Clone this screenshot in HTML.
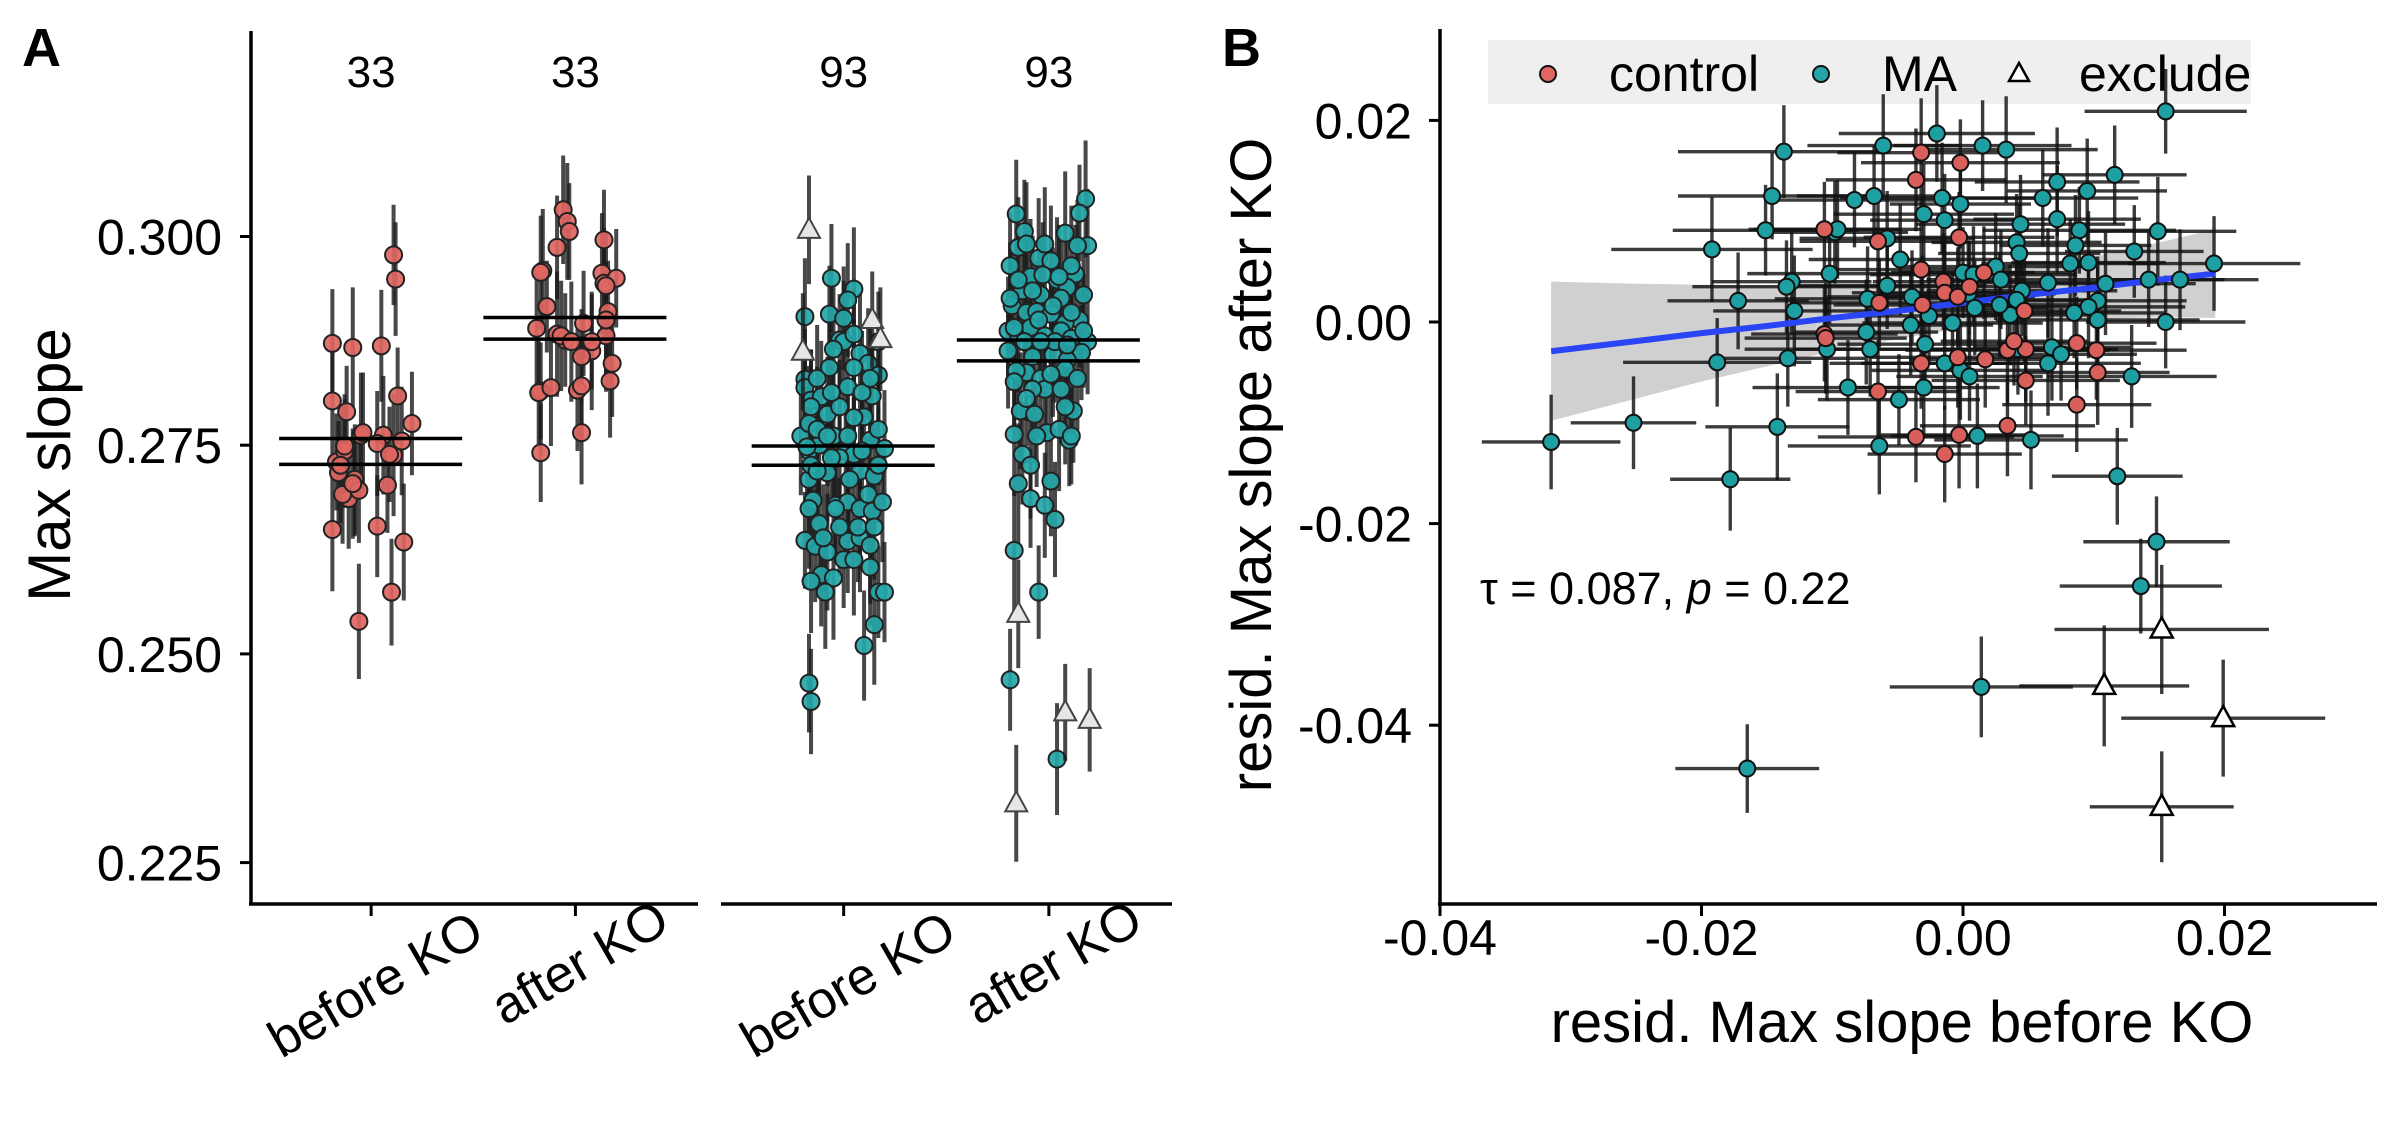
<!DOCTYPE html>
<html><head><meta charset="utf-8"><style>
html,body{margin:0;padding:0;background:#fff}
svg text{font-family:"Liberation Sans",sans-serif;fill:#000}
</style></head><body>
<svg id="chart" width="2400" height="1140" viewBox="0 0 2400 1140" xmlns="http://www.w3.org/2000/svg">
<g id="gA"></g>
<g id="gB"></g>
</svg>
<script>
// ===== Panel A data (values) =====
const aCategories = ["before KO","after KO","before KO","after KO"];
const aCounts = ["33","33","93","93"];
const aTicks = [0.225,0.250,0.275,0.300];
const ctlBefore = [287.2,280.3,273.0,271.7,264.9,274.3,279.0,268.6,286.7,270.9,270.0,269.6,253.9,276.2,274.9,265.3,286.9,276.2,270.2,257.4,273.8,297.8,294.9,280.9,275.5,263.4,277.6,269.1,270.4,276.5,275.2,273.9,272.6];
const ctlBeforeJit = [-0.19,-0.19,-0.17,-0.16,-0.19,-0.13,-0.12,-0.11,-0.09,-0.08,-0.08,-0.06,-0.06,-0.05,-0.13,0.03,0.05,0.06,0.08,0.10,0.11,0.11,0.12,0.13,0.15,0.16,0.20,-0.14,-0.09,-0.04,0.03,0.09,-0.15];
const ctlAfter = [303.2,301.8,300.6,298.7,295.9,295.7,291.6,299.6,295.6,294.4,295.0,294.1,289.0,288.3,287.6,291.0,288.1,286.3,285.6,284.8,281.6,282.1,282.7,281.5,281.3,281.9,276.5,274.1,288.1,287.4,289.6,287.4,290.0];
const ctlAfterJit = [-0.06,-0.04,-0.03,-0.09,-0.16,-0.17,-0.14,0.14,0.13,0.14,0.20,0.15,-0.19,-0.09,-0.05,0.16,0.15,0.08,0.03,0.18,0.01,0.03,0.17,-0.17,-0.18,-0.12,0.03,-0.17,-0.07,-0.02,0.04,0.08,0.15];
const maBefore = [295.0,290.4,290.7,290.2,293.7,292.4,287.6,282.9,286.0,284.8,283.4,280.9,278.7,282.0,281.9,280.4,280.8,276.1,274.3,275.0,276.1,274.3,273.9,278.4,275.6,274.6,270.9,271.7,273.5,271.9,271.3,268.4,267.8,268.2,267.4,267.1,263.6,262.9,262.2,263.5,263.9,263.0,267.4,259.5,259.1,257.4,257.4,257.4,253.5,251.0,246.5,244.3,277.6,276.9,279.6,278.3,276.9,284.3,284.3,283.0,287.4,287.4,272.6,273.5,270.9,269.1,265.6,265.2,265.2,267.4,265.2,274.8,272.6,281.3,281.3,263.9,261.3,261.3,260.4,258.7,276.1,274.3,271.9,283.0,286.5,279.6,288.3,276.1,268.2];
const maBeforeJit = [-0.06,-0.19,-0.07,0,0.05,0.02,-0.02,-0.19,0.08,0.12,0.17,0.14,-0.08,0.02,-0.19,-0.16,-0.11,-0.21,-0.17,-0.12,-0.05,0.01,0.05,0.10,0.13,0.20,-0.17,-0.08,-0.02,0.08,0.15,-0.15,-0.04,0.02,0.08,0.14,-0.19,-0.14,-0.08,0.02,0.08,0.13,-0.04,-0.11,-0.05,-0.09,0.17,0.20,0.15,0.10,-0.17,-0.16,-0.17,-0.13,-0.02,0.05,0.17,-0.07,0.05,-0.13,0,0.17,-0.16,-0.06,0.03,0.12,-0.12,-0.02,0.07,-0.17,0.15,-0.18,0.17,-0.06,0.09,-0.10,0,0.05,0.13,-0.16,0.02,0.09,-0.13,0.13,-0.05,-0.16,0.05,-0.08,0.19];
const maBeforeExcl = [300.8,286.2,290.0,287.7];
const maBeforeExclJit = [-0.17,-0.2,0.14,0.18];
const maAfter = [302.7,304.5,302.8,300.6,300.4,298.9,298.9,298.7,297.4,297.1,295.5,296.5,295.2,294.8,293.9,293.5,293.0,292.6,290.0,291.7,290.9,291.0,290.7,289.6,288.7,288.3,289.1,288.1,288.7,287.8,287.4,286.1,286.3,285.6,285.8,285.2,283.7,283.0,284.1,281.7,281.7,279.1,278.7,279.1,276.3,276.5,275.6,273.9,270.4,270.7,268.6,267.8,266.1,262.4,257.4,246.9,237.4,289.1,287.4,290.0,287.4,290.9,288.7,283.9,281.7,283.5,283.0,294.8,293.5,296.5,295.4,280.6,279.6,276.1,276.9,272.6,276.1,292.6,291.7,293.0,287.4,287.0,282.6,295.2,299.1,299.1];
const maAfterJit = [-0.16,0.18,0.15,-0.12,0.08,0.19,0.14,-0.15,-0.05,0.01,0.13,-0.19,-0.09,0.04,0.09,-0.13,-0.04,0.06,0.15,-0.18,-0.11,-0.06,0.01,0.08,-0.20,-0.15,-0.09,-0.02,0.06,0.11,0.19,0.16,-0.20,-0.08,0.02,0.09,-0.11,-0.04,0.08,-0.02,0.06,-0.14,-0.07,0.12,-0.17,-0.01,0.10,-0.13,-0.15,0.01,-0.09,-0.02,0.03,-0.17,-0.05,-0.19,0.04,-0.17,-0.12,-0.05,0.03,0.11,0.17,-0.16,-0.08,0.01,0.14,-0.15,-0.08,0.11,-0.03,-0.11,0.08,-0.06,0.05,-0.09,0.11,-0.19,0.02,0.17,-0.04,0.09,-0.17,0.05,-0.11,-0.02];
const maAfterExcl = [254.8,232.1,243.0,242.1];
const maAfterExclJit = [-0.15,-0.16,0.08,0.20];
const aErr = [6.5,7.0,5.8,6.2,7.4,6.8,5.5,6.0,7.2,6.6,5.9,6.3,6.9,7.5,5.6,6.1,6.7,7.1,5.7,6.4,7.3,6.0,6.8,5.8,6.5,7.0,6.2,5.9,6.6,7.2,6.3,5.7,6.9,6.1,7.4,6.4,5.8,6.7,7.0,6.2];
const aMeanHi = [275.8,290.3,274.9,287.6];
const aMeanLo = [272.7,287.7,272.6,285.1];

// ===== Panel B data =====
const bTicksX = [-0.04,-0.02,0.00,0.02];
const bTicksY = [-0.04,-0.02,0.00,0.02];
const maX = [15.5,-2.0,-6.1,1.5,3.3,-13.7,11.6,7.2,-14.6,-6.8,-8.3,-1.6,-0.2,9.5,6.1,-3.0,-1.4,7.2,4.4,-15.1,-9.8,-5.8,14.9,8.9,8.6,4.1,-19.2,13.1,4.3,-4.8,8.2,9.6,19.2,2.5,0,-10.2,0.8,-13.1,-13.5,2.9,6.5,-5.8,10.9,14.2,16.6,4.5,0.4,-17.2,-3.9,-7.3,4.1,10.3,9.6,0.9,-12.9,8.5,3.6,-2.6,10.3,15.5,-0.8,-7.4,-18.8,-10.4,-7.1,-2.9,4.2,6.8,-13.4,-1.4,6.5,-0.2,0.5,12.9,-8.8,-3.0,-4.9,-14.2,-6.4,1.1,5.2,-31.5,-25.2,-17.8,11.8,14.8,13.6,1.4,-16.5,-9.6,2.8,7.5,-4.0];
const maY = [20.9,18.7,17.5,17.5,17.1,16.9,14.6,13.9,12.5,12.5,12.1,12.3,11.7,13.0,12.3,10.7,10.1,10.2,9.7,9.1,8.9,8.3,9.0,9.1,7.6,7.9,7.2,7.0,6.8,6.2,5.8,5.9,5.8,5.5,4.9,4.8,4.7,4.0,3.5,4.2,3.9,3.6,3.8,4.2,4.2,3.1,2.8,2.1,2.5,2.3,2.2,2.1,1.5,1.4,1.1,0.9,0.7,0.6,0.2,0,-0.1,-1.0,-4.0,-2.7,-2.7,-2.2,-2.7,-2.5,-3.6,-4.1,-4.1,-4.8,-5.4,-5.4,-6.5,-6.5,-7.7,-10.4,-12.3,-11.3,-11.7,-11.9,-10.0,-15.6,-15.3,-21.8,-26.2,-36.2,-44.3,9.2,1.7,-3.2,-0.3];
const ctlX = [-3.2,-0.2,-3.6,-10.6,-6.5,-0.3,-3.2,-1.5,1.6,-1.4,-0.4,-6.4,4.7,-10.6,-10.5,-3.2,-0.4,1.7,3.4,8.7,10.2,10.3,4.8,-6.5,8.7,3.4,-3.6,-0.3,-1.4,0.5,4.8,-3.1,3.9];
const ctlY = [16.8,15.8,14.1,9.2,8.0,8.4,5.2,4.0,4.9,2.9,2.5,1.9,1.1,-1.2,-1.6,-4.1,-3.5,-3.7,-2.8,-2.1,-2.8,-5.0,-5.8,-6.9,-8.2,-10.3,-11.4,-11.2,-13.1,3.5,-2.7,1.7,-1.9];
const exX = [15.2,10.8,19.9,15.2];
const exY = [-30.5,-36.1,-39.3,-48.1];
const exXe = [8.2,6.5,7.8,5.5];
const exYe = [6.4,6.0,5.8,5.5];
const bXe = [6.2,7.5,5.8,6.8,7.0,8.1,5.5,6.3,7.2,5.9,6.6,7.8,5.4,6.1,7.3,6.9,5.7,6.4,8.0,7.1,5.6,6.7,6.0,7.4,5.8,6.5,7.7,5.3,6.2,7.0,6.8,5.9,6.6,7.5,5.5,6.3,7.9,6.1,7.2,5.7,6.4,7.6,6.9,5.8,6.0,7.3,6.7,5.4,6.5,7.1,5.9,6.8,7.4,5.6,6.2,7.0,6.6,5.8,7.8,6.1,6.9,5.5,7.2,6.3,5.7,6.7,7.5,6.0,5.9,6.4,7.1,6.8,5.6,6.5,7.3,5.8,6.2,5.5,7.0,6.6,7.4,5.3,4.8,4.6,5.0,5.6,6.2,7.0,5.5,6.4,6.9,5.8,6.3];
const bYe = [4.2,4.8,5.1,4.5,5.3,4.6,4.9,5.4,4.3,5.0,4.7,5.5,4.4,5.2,4.8,5.0,4.6,5.3,4.9,4.5,5.1,4.7,5.4,4.3,5.0,4.8,5.2,4.6,4.9,5.5,4.4,5.1,4.7,5.3,4.5,5.0,4.8,5.2,4.6,4.9,5.4,4.3,5.1,4.7,5.0,4.5,5.3,4.8,4.6,5.2,4.9,4.4,5.1,4.7,5.5,4.5,5.0,4.8,5.3,4.6,4.9,5.2,4.4,5.1,4.7,5.0,4.5,5.3,4.8,4.6,5.2,4.9,4.4,5.1,4.7,5.0,4.5,5.3,4.8,5.2,4.9,4.7,4.6,5.1,4.8,4.5,4.7,5.0,4.4,4.9,5.2,4.6,5.0];
const fitX = [-31.5,-25,-20,-15,-10,-5,0,5,10,15,19.3];
const fitY = [-2.9,-1.9,-1.1,-0.4,0.4,1.1,1.9,2.7,3.4,4.2,4.8];
const fitLo = [-9.8,-7.6,-5.9,-4.4,-2.9,-1.7,-0.6,0.1,0.3,0.5,0.4];
const fitHi = [4.0,3.8,3.7,3.6,3.7,3.9,4.4,5.3,6.5,7.9,9.2];

const NS = "http://www.w3.org/2000/svg";
function mk(tag, attrs, parent){ const e=document.createElementNS(NS,tag); for(const k in attrs) e.setAttribute(k,attrs[k]); parent.appendChild(e); return e; }

// ===== Panel A =====
const gA = document.getElementById('gA');
const yA = v => 236.5 + (0.300 - v)/0.025*208.7;
const panelsA = [[249,698],[721,1172]];
const catFrac = [0.272,0.727];
const xCat = i => { const p=panelsA[Math.floor(i/2)]; return p[0] + (p[1]-p[0])*catFrac[i%2]; };
const spacing = 204;
const RED="#e06661", TEAL="#25a7a9";

let t;
const axA = mk('line',{x1:251,y1:31,x2:251,y2:905,stroke:'#000','stroke-width':3.5},gA);


panelsA.forEach((p,k)=>{
  const l=mk('line',{x1:p[0],y1:904,x2:p[1],y2:904,stroke:'#000','stroke-width':3.5},gA);
  
  
});
aTicks.forEach(v=>{
  mk('line',{x1:240,x2:251,y1:yA(v),y2:yA(v),stroke:'#000','stroke-width':3},gA);
  t=mk('text',{x:222,y:yA(v)+18,'text-anchor':'end','font-size':50},gA);
  t.textContent=v.toFixed(3);
  
  
});
aCategories.forEach((c,i)=>{
  const x=xCat(i);
  mk('line',{x1:x,x2:x,y1:904,y2:916,stroke:'#000','stroke-width':3},gA);
  const cy = i%2===0?984:962;
  t=mk('text',{x:x+4,y:cy+18,'text-anchor':'middle','font-size':52,transform:`rotate(-30 ${x+4} ${cy})`},gA);
  t.textContent=c;
  
  
  t=mk('text',{x:x,y:87,'text-anchor':'middle','font-size':44},gA);
  t.textContent=aCounts[i];
  
  
});
t=mk('text',{x:0,y:0,'text-anchor':'middle','font-size':60,transform:'translate(70 465) rotate(-90)'},gA);
t.textContent='Max slope';


t=mk('text',{x:22,y:66,'font-size':54,'font-weight':'bold'},gA);
t.textContent='A';



function drawA(vals, jit, cat, color, tri){
  vals.forEach((v,i)=>{
    const val=v/1000, e=aErr[i%aErr.length]/1000;
    const x=xCat(cat)+jit[i]*spacing;
    const l=mk('line',{x1:x,x2:x,y1:yA(val+e),y2:yA(val-e),stroke:'#1a1a1a','stroke-width':4,'stroke-opacity':0.8},gA);
    
    
  });
  vals.forEach((v,i)=>{
    const x=xCat(cat)+jit[i]*spacing, y=yA(v/1000);
    let m;
    if(tri){ m=mk('polygon',{points:`${x},${y-12} ${x-11},${y+8} ${x+11},${y+8}`,fill:'#e6e6e6',stroke:'#444','stroke-width':2},gA);  }
    else { m=mk('circle',{cx:x,cy:y,r:8.5,fill:color,stroke:'#222','stroke-width':2,'fill-opacity':0.92},gA);  }
    
  });
}
drawA(ctlBefore,ctlBeforeJit,0,RED,false);
drawA(ctlAfter,ctlAfterJit,1,RED,false);
drawA(maBefore,maBeforeJit,2,TEAL,false);
drawA(maBeforeExcl,maBeforeExclJit,2,TEAL,true);
drawA(maAfter,maAfterJit,3,TEAL,false);
drawA(maAfterExcl,maAfterExclJit,3,TEAL,true);
[0,1,2,3].forEach(i=>{
  const x=xCat(i);
  [aMeanHi[i],aMeanLo[i]].forEach(v=>{
    const l=mk('line',{x1:x-92,x2:x+91,y1:yA(v/1000),y2:yA(v/1000),stroke:'#000','stroke-width':3.5},gA);
    
    
  });
});

// ===== Panel B =====
const gB = document.getElementById('gB');
const xB = v => 1440 + (v+0.04)/0.02*261.5;
const yB = v => 322 - v/0.02*201.6;
const lg=mk('rect',{x:1488,y:40,width:763,height:64,fill:'#efefef'},gB);


const axB=mk('line',{x1:1440,y1:29,x2:1440,y2:905,stroke:'#000','stroke-width':3.5},gB);


const axBx=mk('line',{x1:1438,y1:904,x2:2377,y2:904,stroke:'#000','stroke-width':3.5},gB);


bTicksX.forEach(v=>{
  const x=xB(v);
  mk('line',{x1:x,x2:x,y1:904,y2:916,stroke:'#000','stroke-width':3},gB);
  t=mk('text',{x:x,y:955,'text-anchor':'middle','font-size':50},gB);
  t.textContent=v.toFixed(2);
  
  
});
bTicksY.forEach(v=>{
  const y=yB(v);
  mk('line',{x1:1429,x2:1440,y1:y,y2:y,stroke:'#000','stroke-width':3},gB);
  t=mk('text',{x:1412,y:y+18,'text-anchor':'end','font-size':50},gB);
  t.textContent=v.toFixed(2);
  
  
});
t=mk('text',{x:1902,y:1042,'text-anchor':'middle','font-size':58},gB);
t.textContent='resid. Max slope before KO';


t=mk('text',{x:0,y:0,'text-anchor':'middle','font-size':58,transform:'translate(1271 465) rotate(-90)'},gB);
t.textContent='resid. Max slope after KO';


t=mk('text',{x:1222,y:66,'font-size':54,'font-weight':'bold'},gB);
t.textContent='B';



// ribbon + fit
let up='', lo='';
fitX.forEach((x,i)=>{ up += (i?'L':'M')+xB(x/1000)+','+yB(fitHi[i]/1000); });
for(let i=fitX.length-1;i>=0;i--){ lo += 'L'+xB(fitX[i]/1000)+','+yB(fitLo[i]/1000); }
const rib=mk('path',{d:up+lo+'Z',fill:'#c8c8c8','fill-opacity':0.85},gB);



function errB(xs,ys,xe,ye){
  xs.forEach((xv,i)=>{
    const x=xB(xv/1000), y=yB(ys[i]/1000);
    const a=xe[i]!==undefined?xe[i]:6.3, b=ye[i]!==undefined?ye[i]:4.8;
    const h=mk('line',{x1:xB((xv-a)/1000),x2:xB((xv+a)/1000),y1:y,y2:y,stroke:'#111','stroke-width':3.4,'stroke-opacity':0.82},gB);
    
    
    const v=mk('line',{x1:x,x2:x,y1:yB((ys[i]+b)/1000),y2:yB((ys[i]-b)/1000),stroke:'#111','stroke-width':3.4,'stroke-opacity':0.82},gB);
    
    
  });
}
errB(maX,maY,bXe,bYe);
errB(ctlX,ctlY,bXe.slice(40),bYe.slice(40));
errB(exX,exY,exXe,exYe);

let fp='';
fitX.forEach((x,i)=>{ fp += (i?'L':'M')+xB(x/1000)+','+yB(fitY[i]/1000); });
const fl=mk('path',{d:fp,fill:'none',stroke:'#2a45f5','stroke-width':6},gB);



function ptsB(xs,ys,color){
  xs.forEach((xv,i)=>{
    const c=mk('circle',{cx:xB(xv/1000),cy:yB(ys[i]/1000),r:8,fill:color,stroke:'#111','stroke-width':2},gB);
    
    
  });
}
ptsB(maX,maY,"#1e9fa1");
ptsB(ctlX,ctlY,"#d9605a");
exX.forEach((xv,i)=>{
  const x=xB(xv/1000), y=yB(exY[i]/1000);
  const p=mk('polygon',{points:`${x},${y-12} ${x-11},${y+8} ${x+11},${y+8}`,fill:'#fff',stroke:'#000','stroke-width':2.5},gB);
  
  
});

// legend entries
const legItems=[["control",1548,1609,'c',"#e06661"],["MA",1821,1882,'c',"#25a7a9"],["exclude",2019,2079,'t',"#fff"]];
legItems.forEach(it=>{
  let m;
  if(it[3]==='c'){ m=mk('circle',{cx:it[1],cy:74,r:8,fill:it[4],stroke:'#111','stroke-width':2},gB); }
  else { m=mk('polygon',{points:`${it[1]},${63} ${it[1]-10},${81} ${it[1]+10},${81}`,fill:'#fff',stroke:'#000','stroke-width':2.5},gB); }
  
  
  const tx=mk('text',{x:it[2],y:91,'font-size':50},gB);
  tx.textContent=it[0];
  
  
});

// annotation
const an=mk('text',{x:1480,y:604,'font-size':45},gB);


an.innerHTML='τ = 0.087, <tspan font-style="italic">p</tspan> = 0.22';
</script>
</body></html>
